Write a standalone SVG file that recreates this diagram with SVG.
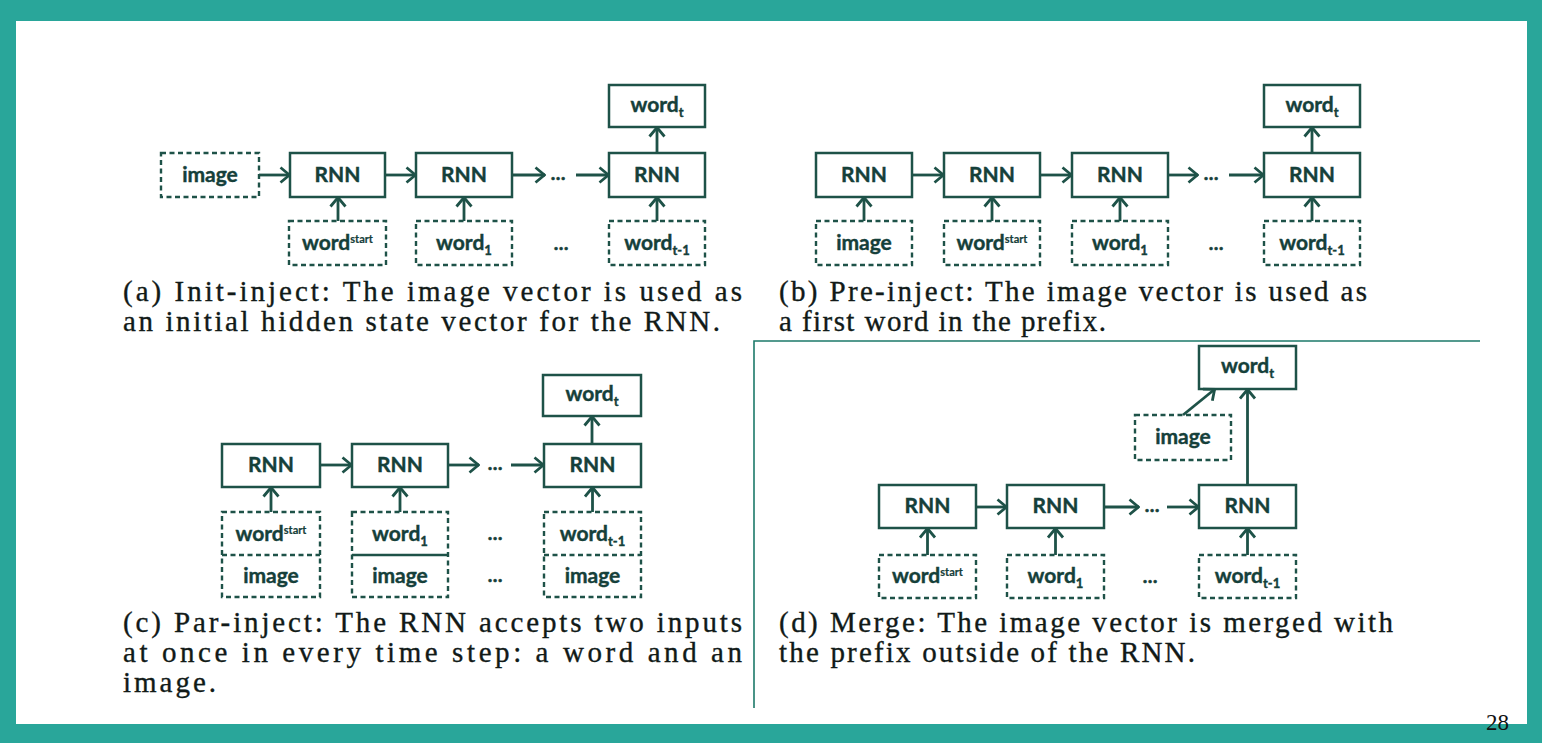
<svg xmlns="http://www.w3.org/2000/svg" width="1542" height="743" viewBox="0 0 1542 743">
<style>
.box{fill:#fff;stroke:#1e5248;stroke-width:2.5}
.dbox{fill:#fff;stroke:#1e5248;stroke-width:2.4;stroke-dasharray:5 3.5}
.sep{stroke:#1e5248;stroke-width:2.4}
.lbl{font-family:Lato,"Open Sans",sans-serif;font-weight:700;font-size:21px;fill:#15403a;stroke:#15403a;stroke-width:0.4;text-anchor:middle}
.dots{font-family:Lato,"Open Sans",sans-serif;font-weight:700;font-size:19px;fill:#15403a;stroke:#15403a;stroke-width:0.6;text-anchor:middle}
.arr{stroke:#1e5248;stroke-width:2.8;fill:none;marker-end:url(#ah)}
.cap{font-family:"Liberation Serif","Times New Roman",serif;font-size:29px;fill:#111a18;stroke:#111a18;stroke-width:0.35}
</style>
<defs>
<marker id="ah" viewBox="0 0 12 18" refX="11" refY="9" markerWidth="12" markerHeight="18" markerUnits="userSpaceOnUse" orient="auto">
<path d="M1.5,1.5 L10.5,9 L1.5,16.5" fill="none" stroke="#1e5248" stroke-width="2.8" stroke-linejoin="miter"/>
</marker>
</defs>
<rect x="0" y="0" width="1542" height="743" fill="#29a69a"/>
<rect x="16" y="21" width="1511" height="703" fill="#ffffff"/>
<path d="M754,708 L754,341 L1480,341" fill="none" stroke="#1d7a6a" stroke-width="1.6"/>

<!-- Panel (a) -->
<g id="a-image"><rect class="dbox" x="161" y="153" width="98" height="44"/><text class="lbl" x="210" y="182">image</text></g>
<g id="a-rnn1"><rect class="box" x="290" y="153" width="95" height="44"/><text class="lbl" x="337.5" y="182">RNN</text></g>
<g id="a-rnn2"><rect class="box" x="416" y="153" width="96" height="44"/><text class="lbl" x="464" y="182">RNN</text></g>
<g id="a-rnn3"><rect class="box" x="609" y="153" width="96" height="44"/><text class="lbl" x="657" y="182">RNN</text></g>
<g id="a-wordt"><rect class="box" x="609" y="85" width="96" height="42"/><text class="lbl" x="657" y="112">word<tspan font-size="13" dy="5">t</tspan></text></g>
<g id="a-wstart"><rect class="dbox" x="289" y="221" width="97" height="44"/><text class="lbl" x="337.5" y="250">word<tspan font-size="11" dy="-7" stroke-width="0.2">start</tspan></text></g>
<g id="a-w1"><rect class="dbox" x="416" y="221" width="96" height="44"/><text class="lbl" x="464" y="250">word<tspan font-size="13" dy="5">1</tspan></text></g>
<g id="a-wt1"><rect class="dbox" x="609" y="221" width="96" height="44"/><text class="lbl" x="657" y="250">word<tspan font-size="13" dy="5">t-1</tspan></text></g>
<text class="dots" x="558" y="180">…</text>
<text class="dots" x="561" y="250">…</text>

<!-- Panel (b) -->
<g id="b-rnn1"><rect class="box" x="816" y="153" width="96" height="44"/><text class="lbl" x="864" y="182">RNN</text></g>
<g id="b-rnn2"><rect class="box" x="944" y="153" width="96" height="44"/><text class="lbl" x="992" y="182">RNN</text></g>
<g id="b-rnn3"><rect class="box" x="1072" y="153" width="96" height="44"/><text class="lbl" x="1120" y="182">RNN</text></g>
<g id="b-rnn4"><rect class="box" x="1264" y="153" width="96" height="44"/><text class="lbl" x="1312" y="182">RNN</text></g>
<g id="b-wordt"><rect class="box" x="1264" y="85" width="96" height="42"/><text class="lbl" x="1312" y="112">word<tspan font-size="13" dy="5">t</tspan></text></g>
<g id="b-image"><rect class="dbox" x="816" y="221" width="96" height="44"/><text class="lbl" x="864" y="250">image</text></g>
<g id="b-wstart"><rect class="dbox" x="944" y="221" width="96" height="44"/><text class="lbl" x="992" y="250">word<tspan font-size="11" dy="-7" stroke-width="0.2">start</tspan></text></g>
<g id="b-w1"><rect class="dbox" x="1072" y="221" width="96" height="44"/><text class="lbl" x="1120" y="250">word<tspan font-size="13" dy="5">1</tspan></text></g>
<g id="b-wt1"><rect class="dbox" x="1264" y="221" width="96" height="44"/><text class="lbl" x="1312" y="250">word<tspan font-size="13" dy="5">t-1</tspan></text></g>
<text class="dots" x="1211" y="180">…</text>
<text class="dots" x="1216" y="250">…</text>

<!-- Panel (c) -->
<g id="c-rnn1"><rect class="box" x="222" y="444" width="98" height="43"/><text class="lbl" x="271" y="472">RNN</text></g>
<g id="c-rnn2"><rect class="box" x="352" y="444" width="96" height="43"/><text class="lbl" x="400" y="472">RNN</text></g>
<g id="c-rnn3"><rect class="box" x="544" y="444" width="97" height="43"/><text class="lbl" x="592.5" y="472">RNN</text></g>
<g id="c-wordt"><rect class="box" x="543" y="375" width="98" height="41"/><text class="lbl" x="592" y="401">word<tspan font-size="13" dy="5">t</tspan></text></g>
<g id="c-in1"><rect class="dbox" x="222" y="512" width="98" height="85"/><line class="dbox" x1="222" y1="555" x2="320" y2="555"/><text class="lbl" x="271" y="541">word<tspan font-size="11" dy="-7" stroke-width="0.2">start</tspan></text><text class="lbl" x="271" y="583">image</text></g>
<g id="c-in2"><rect class="dbox" x="352" y="512" width="96" height="85"/><line class="sep" x1="352" y1="555" x2="448" y2="555"/><text class="lbl" x="400" y="541">word<tspan font-size="13" dy="5">1</tspan></text><text class="lbl" x="400" y="583">image</text></g>
<g id="c-in3"><rect class="dbox" x="544" y="512" width="97" height="85"/><line class="dbox" x1="544" y1="555" x2="641" y2="555"/><text class="lbl" x="592.5" y="541">word<tspan font-size="13" dy="5">t-1</tspan></text><text class="lbl" x="592.5" y="583">image</text></g>
<text class="dots" x="495" y="470">…</text>
<text class="dots" x="495" y="540">…</text>
<text class="dots" x="495" y="582">…</text>

<!-- Panel (d) -->
<g id="d-rnn1"><rect class="box" x="879" y="485" width="97" height="43"/><text class="lbl" x="927.5" y="513">RNN</text></g>
<g id="d-rnn2"><rect class="box" x="1007" y="485" width="97" height="43"/><text class="lbl" x="1055.5" y="513">RNN</text></g>
<g id="d-rnn3"><rect class="box" x="1199" y="485" width="97" height="43"/><text class="lbl" x="1247.5" y="513">RNN</text></g>
<g id="d-wordt"><rect class="box" x="1199" y="346" width="97" height="43"/><text class="lbl" x="1247.5" y="373">word<tspan font-size="13" dy="5">t</tspan></text></g>
<g id="d-image"><rect class="dbox" x="1135" y="415" width="96" height="45"/><text class="lbl" x="1183" y="444">image</text></g>
<g id="d-wstart"><rect class="dbox" x="879" y="555" width="97" height="43"/><text class="lbl" x="927.5" y="583">word<tspan font-size="11" dy="-7" stroke-width="0.2">start</tspan></text></g>
<g id="d-w1"><rect class="dbox" x="1007" y="555" width="97" height="43"/><text class="lbl" x="1055.5" y="583">word<tspan font-size="13" dy="5">1</tspan></text></g>
<g id="d-wt1"><rect class="dbox" x="1199" y="555" width="97" height="43"/><text class="lbl" x="1247.5" y="583">word<tspan font-size="13" dy="5">t-1</tspan></text></g>
<text class="dots" x="1152" y="512">…</text>
<text class="dots" x="1150" y="583">…</text>

<g id="connectors">
<line class="arr" x1="259" y1="175" x2="290" y2="175"/>
<line class="arr" x1="385" y1="175" x2="416" y2="175"/>
<line class="arr" x1="512" y1="175" x2="545" y2="175"/>
<line class="arr" x1="576" y1="175" x2="609" y2="175"/>
<line class="arr" x1="657" y1="153" x2="657" y2="127"/>
<line class="arr" x1="338" y1="221" x2="338" y2="197"/>
<line class="arr" x1="464" y1="221" x2="464" y2="197"/>
<line class="arr" x1="657" y1="221" x2="657" y2="197"/>

<line class="arr" x1="912" y1="175" x2="944" y2="175"/>
<line class="arr" x1="1040" y1="175" x2="1072" y2="175"/>
<line class="arr" x1="1168" y1="175" x2="1198" y2="175"/>
<line class="arr" x1="1229" y1="175" x2="1264" y2="175"/>
<line class="arr" x1="1312" y1="153" x2="1312" y2="127"/>
<line class="arr" x1="864" y1="221" x2="864" y2="197"/>
<line class="arr" x1="992" y1="221" x2="992" y2="197"/>
<line class="arr" x1="1120" y1="221" x2="1120" y2="197"/>
<line class="arr" x1="1312" y1="221" x2="1312" y2="197"/>

<line class="arr" x1="320" y1="465" x2="352" y2="465"/>
<line class="arr" x1="448" y1="465" x2="479" y2="465"/>
<line class="arr" x1="511" y1="465" x2="544" y2="465"/>
<line class="arr" x1="592" y1="444" x2="592" y2="416"/>
<line class="arr" x1="271" y1="512" x2="271" y2="487"/>
<line class="arr" x1="400" y1="512" x2="400" y2="487"/>
<line class="arr" x1="592.5" y1="512" x2="592.5" y2="487"/>

<line class="arr" x1="976" y1="507" x2="1007" y2="507"/>
<line class="arr" x1="1104" y1="507" x2="1139" y2="507"/>
<line class="arr" x1="1167" y1="507" x2="1199" y2="507"/>
<line class="arr" x1="927.5" y1="555" x2="927.5" y2="528"/>
<line class="arr" x1="1055.5" y1="555" x2="1055.5" y2="528"/>
<line class="arr" x1="1247.5" y1="555" x2="1247.5" y2="528"/>
<line class="arr" x1="1247.5" y1="485" x2="1247.5" y2="389"/>
<line class="arr" x1="1183" y1="415" x2="1215" y2="389"/>
</g>

<text class="cap" x="123" y="301" textLength="619" lengthAdjust="spacing">(a)  Init-inject: The image vector is used as</text>
<text class="cap" x="123" y="331" textLength="597" lengthAdjust="spacing">an initial hidden state vector for the RNN.</text>
<text class="cap" x="779" y="301" textLength="588" lengthAdjust="spacing">(b)  Pre-inject: The image vector is used as</text>
<text class="cap" x="779" y="331" textLength="327" lengthAdjust="spacing">a first word in the prefix.</text>
<text class="cap" x="123" y="632" textLength="619" lengthAdjust="spacing">(c)  Par-inject: The RNN accepts two inputs</text>
<text class="cap" x="123" y="662" textLength="619" lengthAdjust="spacing">at once in every time step:  a word and an</text>
<text class="cap" x="123" y="692" textLength="93" lengthAdjust="spacing">image.</text>
<text class="cap" x="779" y="632" textLength="614" lengthAdjust="spacing">(d)  Merge: The image vector is merged with</text>
<text class="cap" x="779" y="662" textLength="416" lengthAdjust="spacing">the prefix outside of the RNN.</text>
<text x="1486" y="730" font-family="Liberation Serif, serif" font-size="23" fill="#111">28</text>
</svg>
